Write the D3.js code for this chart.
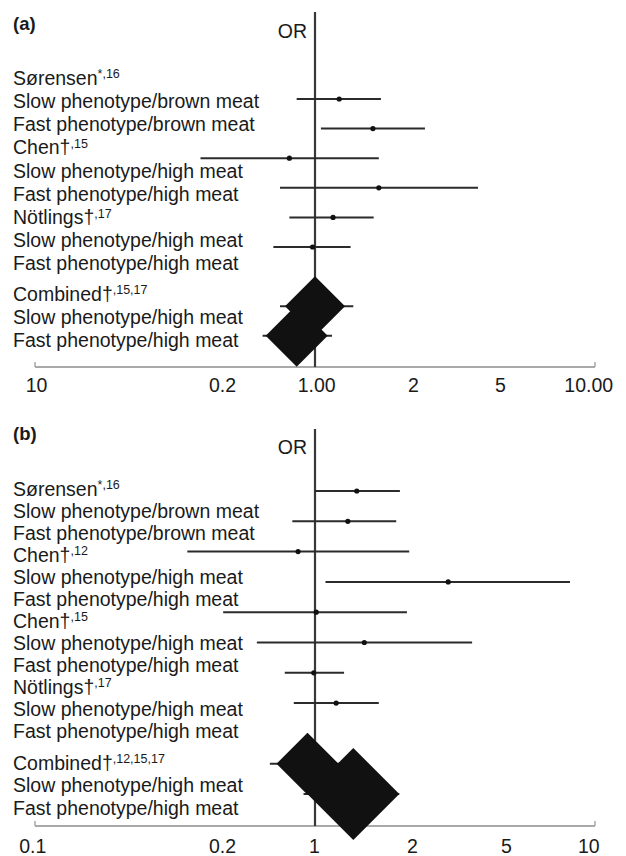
<!DOCTYPE html>
<html>
<head>
<meta charset="utf-8">
<script src="https://cdn.jsdelivr.net/npm/d3@7"></script>
<style>
  html, body { margin: 0; padding: 0; background: #fff; }
  svg { display: block; }
  text { font-family: "Liberation Sans", Arial, Helvetica, sans-serif; fill: #1a1a1a; }
</style>
</head>
<body>
<svg id="chart" width="626" height="856"></svg>
<script>
// ---------- DATA ----------
// Panel (a) study rows (odds ratio, lower CI, upper CI)
const orA  = [1.22, 1.61, 0.81, 1.69, 1.16, 0.98];
const loA  = [0.86, 1.05, 0.39, 0.75, 0.81, 0.71];
const hiA  = [1.72, 2.47, 1.69, 3.82, 1.62, 1.34];
// Panel (a) combined estimates
const combOrA = [1.00, 0.86];
const combLoA = [0.75, 0.65];
const combHiA = [1.37, 1.15];

// Panel (b) study rows
const orB  = [1.41, 1.31, 0.87, 2.99, 1.01, 1.50, 0.99, 1.19];
const loB  = [1.00, 0.83, 0.35, 1.09, 0.47, 0.62, 0.78, 0.84];
const hiB  = [2.01, 1.95, 2.17, 8.14, 2.13, 3.64, 1.27, 1.69];
// Panel (b) combined estimates
const combOrB = [0.94, 1.37];
const combLoB = [0.69, 0.91];
const combHiB = [1.23, 2.00];

// Row labels: [main text, superscript]
const labelsA = [
  ["Sørensen", "*,16"],
  ["Slow phenotype/brown meat", ""],
  ["Fast phenotype/brown meat", ""],
  ["Chen†", ",15"],
  ["Slow phenotype/high meat", ""],
  ["Fast phenotype/high meat", ""],
  ["Nötlings†", ",17"],
  ["Slow phenotype/high meat", ""],
  ["Fast phenotype/high meat", ""]
];
const combLabelsA = [
  ["Combined†", ",15,17"],
  ["Slow phenotype/high meat", ""],
  ["Fast phenotype/high meat", ""]
];
const labelsB = [
  ["Sørensen", "*,16"],
  ["Slow phenotype/brown meat", ""],
  ["Fast phenotype/brown meat", ""],
  ["Chen†", ",12"],
  ["Slow phenotype/high meat", ""],
  ["Fast phenotype/high meat", ""],
  ["Chen†", ",15"],
  ["Slow phenotype/high meat", ""],
  ["Fast phenotype/high meat", ""],
  ["Nötlings†", ",17"],
  ["Slow phenotype/high meat", ""],
  ["Fast phenotype/high meat", ""]
];
const combLabelsB = [
  ["Combined†", ",12,15,17"],
  ["Slow phenotype/high meat", ""],
  ["Fast phenotype/high meat", ""]
];

// Axis tick labels (as printed in the figure)
const tickLabelsA = ["10", "0.2", "1.00", "2", "5", "10.00"];
const tickLabelsB = ["0.1", "0.2", "1", "2", "5", "10"];
const tickValues  = [0.1, 0.2, 1, 2, 5, 10];

// ---------- LAYOUT ----------
const svg = d3.select("#chart");
const FONT = 19.5;
const x = d3.scaleLog().domain([0.1, 10]).range([35, 595]);

// printed label positions (fraction of axis span) — labels in source are not on the log positions
const labelFracA = [0.002, 0.334, 0.502, 0.675, 0.830, 0.988];
const labelFracB = [-0.005, 0.334, 0.498, 0.673, 0.841, 0.988];

function drawPanel(cfg) {
  const g = svg.append("g");
  const [x0, x1] = x.range();

  // panel letter
  g.append("text").attr("x", 13).attr("y", cfg.letterY)
    .attr("font-size", 18.5).attr("font-weight", "bold").text(cfg.letter);

  // OR label
  g.append("text").attr("x", 307).attr("y", cfg.orY)
    .attr("text-anchor", "end").attr("font-size", FONT).text("OR");

  // row labels
  const yText = (i) => cfg.textY0 + i * cfg.textStep;
  const yComb = (i) => cfg.combTextY0 + i * cfg.textStep2;
  function addLabel(d, y) {
    const t = g.append("text").attr("x", 13).attr("y", y + 6.8).attr("font-size", FONT);
    t.append("tspan").text(d[0]);
    if (d[1]) t.append("tspan").attr("font-size", 12.5).attr("dy", -6.5).text(d[1]);
  }
  cfg.labels.forEach((d, i) => addLabel(d, yText(i)));
  cfg.combLabels.forEach((d, i) => addLabel(d, yComb(i)));

  // axis line with end/centre ticks
  g.append("line").attr("x1", x0).attr("x2", x1)
    .attr("y1", cfg.axisY).attr("y2", cfg.axisY)
    .attr("stroke", "#a9a9a9").attr("stroke-width", 2.2);
  g.selectAll(".tk").data([0.1, 1, 10]).enter().append("line")
    .attr("x1", d => x(d)).attr("x2", d => x(d))
    .attr("y1", cfg.axisY).attr("y2", cfg.axisY - 5)
    .attr("stroke", "#a9a9a9").attr("stroke-width", 1.5);

  // tick labels via an axis on a (piecewise) label scale
  const labelScale = d3.scaleLog().domain(tickValues)
    .range(cfg.labelFrac.map(f => x0 + f * (x1 - x0)));
  const ax = d3.axisBottom(labelScale).tickValues(tickValues)
    .tickSize(0).tickPadding(0)
    .tickFormat((d, i) => cfg.tickLabels[i]);
  const axG = g.append("g").attr("transform", `translate(0,${cfg.tickLabelY})`).call(ax);
  axG.select(".domain").remove();
  axG.selectAll("text").attr("font-size", FONT)
    .attr("font-family", "\"Liberation Sans\", Arial, sans-serif")
    .attr("fill", "#1a1a1a").attr("dy", 0).attr("y", 0);

  // row scale for marks
  const yRow = d3.scaleLinear().domain([0, 1]).range([cfg.rowY0, cfg.rowY0 + cfg.rowStep]);

  // reference line at OR = 1
  g.append("line").attr("x1", x(1)).attr("x2", x(1))
    .attr("y1", cfg.refTop).attr("y2", cfg.axisY)
    .attr("stroke", "#383838").attr("stroke-width", 2.2);

  // study CIs
  const rows = cfg.or.map((v, i) => ({ or: v, lo: cfg.lo[i], hi: cfg.hi[i], i }));
  g.selectAll(".ci").data(rows).enter().append("line")
    .attr("x1", d => x(d.lo)).attr("x2", d => x(d.hi))
    .attr("y1", d => yRow(d.i)).attr("y2", d => yRow(d.i))
    .attr("stroke", "#2b2b2b").attr("stroke-width", 2);
  g.selectAll(".pt").data(rows).enter().append("circle")
    .attr("cx", d => x(d.or)).attr("cy", d => yRow(d.i)).attr("r", 2.6)
    .attr("fill", "#111");

  // combined: whiskers + diamonds
  const comb = cfg.combOr.map((v, i) => ({ or: v, lo: cfg.combLo[i], hi: cfg.combHi[i], i: cfg.combRow[i], s: cfg.diamond[i] }));
  g.selectAll(".cci").data(comb).enter().append("line")
    .attr("x1", d => x(d.lo)).attr("x2", d => x(d.hi))
    .attr("y1", d => yRow(d.i)).attr("y2", d => yRow(d.i))
    .attr("stroke", "#2b2b2b").attr("stroke-width", 2);
  g.selectAll(".dm").data(comb).enter().append("path")
    .attr("d", d => {
      const cx = x(d.or), cy = yRow(d.i), s = d.s;
      return `M${cx},${cy - s}L${cx + s},${cy}L${cx},${cy + s}L${cx - s},${cy}Z`;
    })
    .attr("fill", "#111");
}

drawPanel({
  letter: "(a)", letterY: 30, orY: 38,
  labels: labelsA, combLabels: combLabelsA,
  textY0: 78, textStep: 23.2, combTextY0: 294, textStep2: 23.2,
  axisY: 367, tickLabelY: 392, refTop: 12,
  tickLabels: tickLabelsA, labelFrac: labelFracA,
  rowY0: 99, rowStep: 29.6,
  or: orA, lo: loA, hi: hiA,
  combOr: combOrA, combLo: combLoA, combHi: combHiA,
  combRow: [7, 8], diamond: [30, 31]
});

drawPanel({
  letter: "(b)", letterY: 440, orY: 454,
  labels: labelsB, combLabels: combLabelsB,
  textY0: 489, textStep: 22, combTextY0: 763, textStep2: 22.5,
  axisY: 826, tickLabelY: 853, refTop: 429,
  tickLabels: tickLabelsB, labelFrac: labelFracB,
  rowY0: 491, rowStep: 30.3,
  or: orB, lo: loB, hi: hiB,
  combOr: combOrB, combLo: combLoB, combHi: combHiB,
  combRow: [9, 10], diamond: [31, 46]
});
</script>
</body>
</html>
